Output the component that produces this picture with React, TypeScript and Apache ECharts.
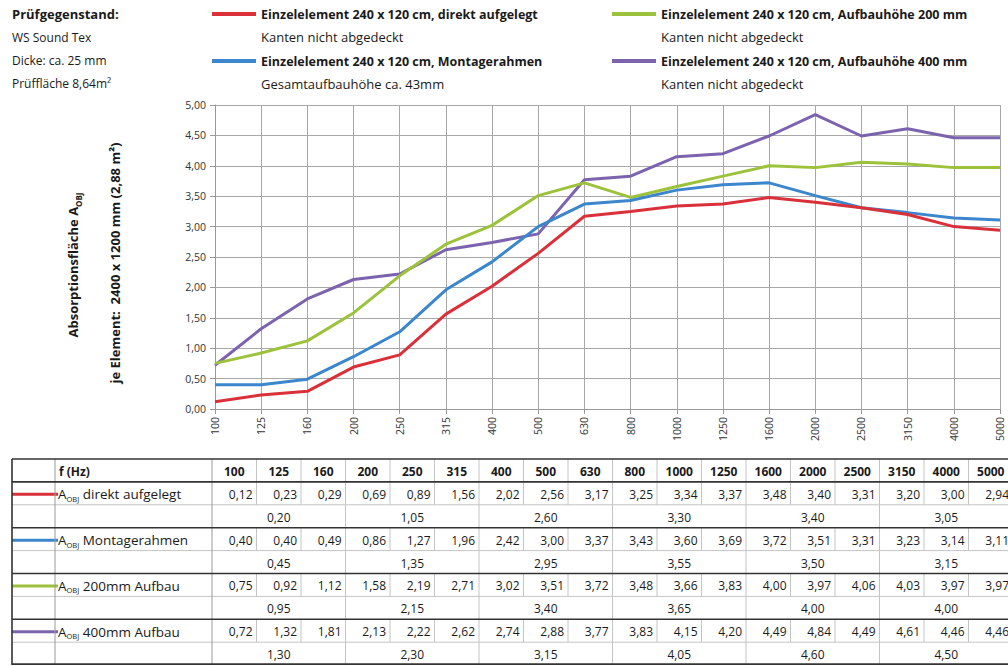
import React, { useEffect, useRef } from "react";
import * as echarts from "echarts";

const freqs = ["100","125","160","200","250","315","400","500","630","800","1000","1250","1600","2000","2500","3150","4000","5000"];
const direkt = [0.12,0.23,0.29,0.69,0.89,1.56,2.02,2.56,3.17,3.25,3.34,3.37,3.48,3.40,3.31,3.20,3.00,2.94];
const montage = [0.40,0.40,0.49,0.86,1.27,1.96,2.42,3.00,3.37,3.43,3.60,3.69,3.72,3.51,3.31,3.23,3.14,3.11];
const aufbau200 = [0.75,0.92,1.12,1.58,2.19,2.71,3.02,3.51,3.72,3.48,3.66,3.83,4.00,3.97,4.06,4.03,3.97,3.97];
const aufbau400 = [0.72,1.32,1.81,2.13,2.22,2.62,2.74,2.88,3.77,3.83,4.15,4.20,4.49,4.84,4.49,4.61,4.46,4.46];
const octDirekt = [0.20,1.05,2.60,3.30,3.40,3.05];
const octMontage = [0.45,1.35,2.95,3.55,3.50,3.15];
const oct200 = [0.95,2.15,3.40,3.65,4.00,4.00];
const oct400 = [1.30,2.30,3.15,4.05,4.60,4.50];
const colors = ["#d9303a", "#3b86cc", "#9cc23c", "#7c63ad"];
const seriesNames = [
  "Einzelelement 240 x 120 cm, direkt aufgelegt",
  "Einzelelement 240 x 120 cm, Montagerahmen",
  "Einzelelement 240 x 120 cm, Aufbauhöhe 200 mm",
  "Einzelelement 240 x 120 cm, Aufbauhöhe 400 mm",
];
const seriesSub = ["Kanten nicht abgedeckt", "Gesamtaufbauhöhe ca. 43mm", "Kanten nicht abgedeckt", "Kanten nicht abgedeckt"];
const tableLabels = ["direkt aufgelegt", "Montagerahmen", "200mm Aufbau", "400mm Aufbau"];
const infoLines = ["Prüfgegenstand:", "WS Sound Tex", "Dicke: ca. 25 mm", "Prüffläche 8,64m²"];
const yTitle1 = "Absorptionsfläche A";
const yTitle2 = "je Element:  2400 x 1200 mm (2,88 m²)";

const FONT = "'Open Sans', Lato, sans-serif";
const fmt = (v: number) => v.toFixed(2).replace(".", ",");

function buildGraphics() {
  const g: any[] = [];
  const txt = "#1a1a1a";
  infoLines.forEach((s, i) => {
    g.push({ type: "text", x: 12, y: 14 + i * 23.3, style: { text: s, font: `${i === 0 ? "bold 13px" : "12px"} ${FONT}`, fill: txt, verticalAlign: "middle" } });
  });
  const legPos = [[212, 14], [212, 61], [612, 14], [612, 61]];
  seriesNames.forEach((n, i) => {
    const [lx, ly] = legPos[i];
    g.push({ type: "line", shape: { x1: lx, y1: ly, x2: lx + 44, y2: ly }, style: { stroke: colors[i], lineWidth: 4 } });
    g.push({ type: "text", x: lx + 49, y: ly, style: { text: n, font: `bold 12.5px ${FONT}`, fill: txt, verticalAlign: "middle" } });
    g.push({ type: "text", x: lx + 49, y: ly + 23.3, style: { text: seriesSub[i], font: `13px ${FONT}`, fill: txt, verticalAlign: "middle" } });
  });
  g.push({
    type: "text", x: 73, y: 265, rotation: Math.PI / 2,
    style: {
      text: `{n|${yTitle1}}{s|OBJ}`, align: "center", verticalAlign: "middle",
      rich: {
        n: { font: `bold 13px ${FONT}`, fill: txt, lineHeight: 18 },
        s: { font: `bold 8px ${FONT}`, fill: txt, lineHeight: 9, verticalAlign: "bottom" },
      },
    },
  });
  g.push({ type: "text", x: 115, y: 263, rotation: Math.PI / 2, style: { text: yTitle2, font: `bold 13px ${FONT}`, fill: txt, align: "center", verticalAlign: "middle" } });

  const L = 12, LR = 55, LB = 212, CW = 44.5, TOP = 459, RH = 22.9;
  const N = freqs.length;
  const R = LB + CW * N;
  const BOT = TOP + RH * 9;
  const dark = "#333", light = "#c4c4c4";
  const rowY = (r: number) => TOP + r * RH;
  g.push({ type: "text", x: LR + 4, y: rowY(0) + RH / 2 + 1, style: { text: "f (Hz)", font: `bold 12px ${FONT}`, fill: txt, verticalAlign: "middle" } });
  freqs.forEach((f, i) => {
    g.push({ type: "text", x: LB + CW * (i + 0.5), y: rowY(0) + RH / 2 + 1, style: { text: f, font: `bold 12px ${FONT}`, fill: txt, align: "center", verticalAlign: "middle" } });
  });
  const data = [direkt, montage, aufbau200, aufbau400];
  const octs = [octDirekt, octMontage, oct200, oct400];
  data.forEach((vals, gi) => {
    const mr = 1 + gi * 2;
    const cy = rowY(mr) + RH / 2 + 1;
    g.push({ type: "line", shape: { x1: L, y1: cy, x2: LR + 3, y2: cy }, style: { stroke: colors[gi], lineWidth: 3 } });
    g.push({
      type: "text", x: LR + 3, y: cy,
      style: {
        text: `{n|A}{s|OBJ}{n| ${tableLabels[gi]}}`, verticalAlign: "middle",
        rich: {
          n: { font: `13.5px ${FONT}`, fill: txt, lineHeight: 17 },
          s: { font: `7.5px ${FONT}`, fill: txt, lineHeight: 8, verticalAlign: "bottom" },
        },
      },
    });
    vals.forEach((v, i) => {
      g.push({ type: "text", x: LB + CW * (i + 1) - 4, y: cy, style: { text: fmt(v), font: `12px ${FONT}`, fill: txt, align: "right", verticalAlign: "middle" } });
    });
    octs[gi].forEach((v, k) => {
      g.push({ type: "text", x: LB + CW * (k * 3 + 1.5), y: rowY(mr + 1) + RH / 2 + 1, style: { text: fmt(v), font: `12px ${FONT}`, fill: txt, align: "center", verticalAlign: "middle" } });
    });
    g.push({ type: "line", shape: { x1: L, y1: rowY(mr + 1), x2: R, y2: rowY(mr + 1) }, style: { stroke: light, lineWidth: 1 } });
    for (let i = 1; i < N; i++) {
      if (i % 3 === 0) continue;
      const x = LB + CW * i;
      g.push({ type: "line", shape: { x1: x, y1: rowY(mr), x2: x, y2: rowY(mr + 1) }, style: { stroke: light, lineWidth: 1 } });
    }
  });
  for (let i = 1; i < N; i++) {
    if (i % 3 === 0) continue;
    const x = LB + CW * i;
    g.push({ type: "line", shape: { x1: x, y1: rowY(0), x2: x, y2: rowY(1) }, style: { stroke: light, lineWidth: 1 } });
  }
  for (let k = 1; k < 6; k++) {
    const x = LB + CW * k * 3;
    g.push({ type: "line", shape: { x1: x, y1: TOP, x2: x, y2: BOT }, style: { stroke: light, lineWidth: 1 } });
  }
  g.push({ type: "line", shape: { x1: LR, y1: TOP, x2: LR, y2: BOT }, style: { stroke: "#999", lineWidth: 1 } });
  g.push({ type: "line", shape: { x1: LB, y1: TOP, x2: LB, y2: BOT }, style: { stroke: "#999", lineWidth: 1 } });
  [0, 1, 3, 5, 7].forEach((r) => {
    g.push({ type: "line", shape: { x1: L, y1: rowY(r), x2: R, y2: rowY(r) }, style: { stroke: dark, lineWidth: 1.6 } });
  });
  g.push({ type: "line", shape: { x1: L, y1: BOT - 1, x2: R, y2: BOT - 1 }, style: { stroke: dark, lineWidth: 1.6 } });
  g.push({ type: "line", shape: { x1: L, y1: TOP, x2: L, y2: BOT }, style: { stroke: dark, lineWidth: 1.6 } });
  return g;
}

export default function App() {
  const ref = useRef<HTMLDivElement>(null);
  useEffect(() => {
    if (!ref.current) return;
    const chart = echarts.init(ref.current, null, { renderer: "svg" });
    const allData = [direkt, montage, aufbau200, aufbau400];
    chart.setOption({
      animation: false,
      backgroundColor: "#ffffff",
      textStyle: { fontFamily: FONT },
      grid: { left: 215, right: 8, top: 105, bottom: 257, containLabel: false },
      xAxis: {
        type: "category",
        data: freqs,
        boundaryGap: false,
        axisLine: { lineStyle: { color: "#999", width: 1 } },
        axisTick: { show: true, length: 5, lineStyle: { color: "#999" } },
        axisLabel: { rotate: 90, fontSize: 10.5, color: "#333", margin: 8, fontFamily: FONT },
        splitLine: { show: true, lineStyle: { color: "#a8a8a8", width: 1 } },
      },
      yAxis: {
        type: "value",
        min: 0,
        max: 5,
        interval: 0.5,
        axisLine: { show: true, lineStyle: { color: "#999" } },
        axisTick: { show: true, length: 5, lineStyle: { color: "#999" } },
        axisLabel: { fontSize: 10.5, color: "#333", margin: 9, formatter: (v: number) => fmt(v), fontFamily: FONT },
        splitLine: { show: true, lineStyle: { color: "#a8a8a8", width: 1 } },
      },
      series: allData.map((d, i) => ({
        name: seriesNames[i],
        type: "line",
        data: d,
        showSymbol: false,
        symbol: "none",
        lineStyle: { color: colors[i], width: 3 },
        itemStyle: { color: colors[i] },
        z: 10 - i,
      })),
      graphic: buildGraphics(),
    });
    return () => chart.dispose();
  }, []);
  return <div ref={ref} style={{ position: "absolute", left: 0, top: 0, width: 1008, height: 666 }} />;
}
